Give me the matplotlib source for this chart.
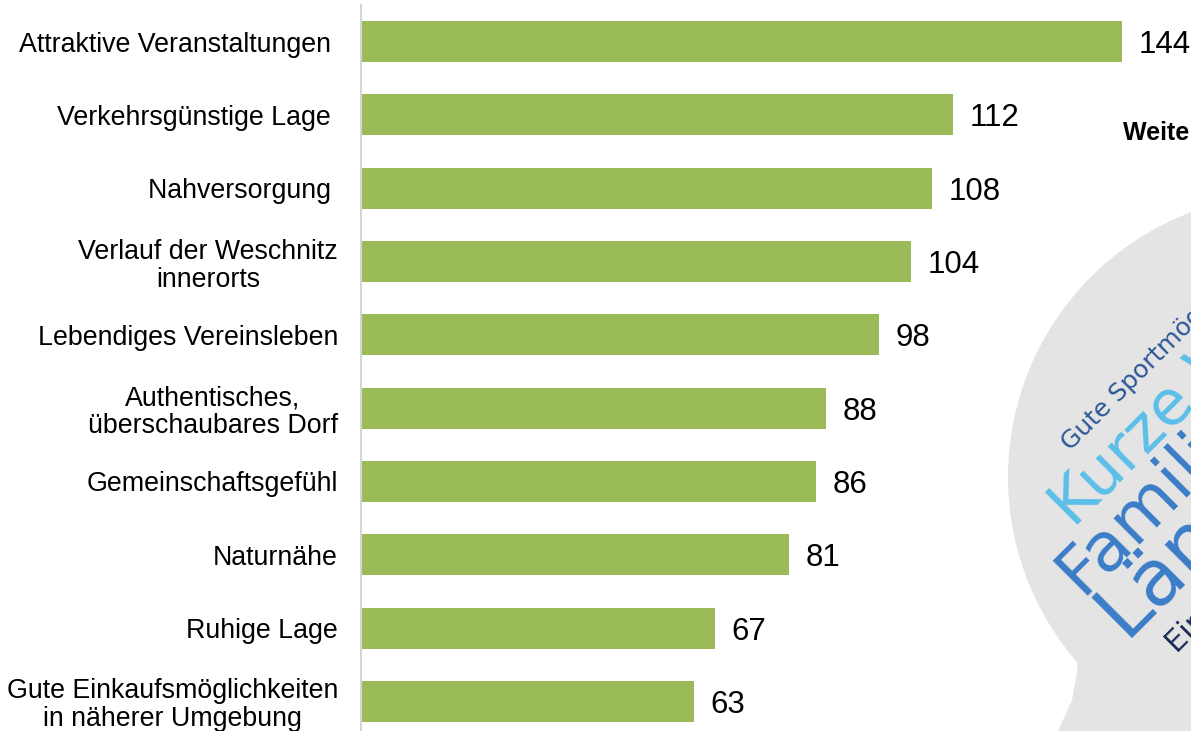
import matplotlib
matplotlib.use("Agg")
import matplotlib.pyplot as plt
from matplotlib.patches import Circle, Polygon

W, H = 1191, 731

GREEN = "#9bbb59"
CLOUD_GRAY = "#e4e4e4"

categories = [
    "Attraktive Veranstaltungen ",
    "Verkehrsgünstige Lage ",
    "Nahversorgung ",
    "Verlauf der Weschnitz\ninnerorts",
    "Lebendiges Vereinsleben",
    "Authentisches,\nüberschaubares Dorf",
    "Gemeinschaftsgefühl",
    "Naturnähe",
    "Ruhige Lage",
    "Gute Einkaufsmöglichkeiten\nin näherer Umgebung",
]
values = [144, 112, 108, 104, 98, 88, 86, 81, 67, 63]

# Wortwolke rechts (nur angeschnitten sichtbar)
cloud_words = ["Gute Sportmöglichkeiten", "Kurze Wege", "Familienfreundlich", "Ländlich", "Einkaufen"]
cloud_sizes = [18, 45, 49, 56, 22]
cloud_colors = ["#2b5797", "#5bbfe9", "#3b7dc8", "#3b7dc8", "#1b2a56"]
cloud_anchor = [(1070, 451), (1074, 529), (1082, 596), (1125, 638), (1176, 652)]

plt.rcParams["font.family"] = ["Liberation Sans", "DejaVu Sans"]

fig = plt.figure(figsize=(W / 100, H / 100), dpi=100)
fig.patch.set_facecolor("white")

# Hintergrund-Ebene für die Wortwolke in Pixelkoordinaten
bg = fig.add_axes([0, 0, 1, 1])
bg.set_xlim(0, W)
bg.set_ylim(H, 0)
bg.axis("off")
bg.add_patch(Circle((1291, 477), 283, color=CLOUD_GRAY, lw=0))
bg.add_patch(Polygon([(1076, 640), (1078, 657), (1077, 673), (1072, 700), (1058, 731),
                      (W, 731), (W, 640)], closed=True, color=CLOUD_GRAY, lw=0))
for word, size, color, (x, y) in zip(cloud_words, cloud_sizes, cloud_colors, cloud_anchor):
    bg.text(x, y, word, fontsize=size, color=color, rotation=45, rotation_mode="anchor",
            ha="left", va="baseline", family="DejaVu Sans", clip_on=True)
bg.text(1123, 140, "Weitere Nennungen", fontsize=18, fontweight="bold", ha="left",
        va="baseline", clip_on=True)

# Balkendiagramm
top_px, slot_h = 5, 73.3
ax_h = slot_h * len(values)
ax = fig.add_axes([361 / W, 1 - (top_px + ax_h) / H, (W - 361) / W, ax_h / H])
ax.patch.set_alpha(0)

pos = list(range(len(values)))
bars = ax.barh(pos, values, height=0.56, color=GREEN)
ax.set_ylim(len(values) - 0.5, -0.5)
ax.set_xlim(0, (W - 361) / 5.285)

ax.set_yticks(pos, categories, fontsize=19.3)
for lbl in ax.get_yticklabels():
    lbl.set_multialignment("center")
    lbl.set_linespacing(1.1)
ax.tick_params(axis="y", length=0, pad=16.5)
ax.set_xticks([])

for side in ["top", "right", "bottom"]:
    ax.spines[side].set_visible(False)
ax.spines["left"].set_color("#d5d5d5")
ax.spines["left"].set_linewidth(1.5)

for b, v in zip(bars, values):
    ax.annotate(str(v), (b.get_width(), b.get_y() + b.get_height() / 2),
                xytext=(12, 0), textcoords="offset points", fontsize=22.5,
                ha="left", va="center_baseline", annotation_clip=False)

fig.savefig("out.png", dpi=100, facecolor="white")
